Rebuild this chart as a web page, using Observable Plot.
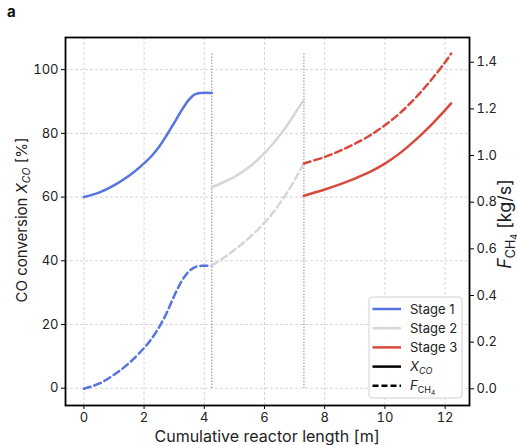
<!DOCTYPE html>
<html><head><meta charset="utf-8">
<script src="https://cdn.jsdelivr.net/npm/d3@7"></script>
<script src="https://cdn.jsdelivr.net/npm/@observablehq/plot@0.6"></script>
<style>
body{margin:0;background:#fff;}
#chart svg{display:block}
</style></head><body><div id="chart"></div>
<script>
// ---- data ----
const stageNames = ["Stage 1", "Stage 2", "Stage 3"];
const stageColors = ["#5574e0", "#d6d6d6", "#d8493d"];

const stage1Length = [0, 0.5, 1.0, 1.5, 2.0, 2.25, 2.5, 2.75, 3.0, 3.25, 3.5, 3.7, 3.9, 4.25];
const stage1Xco    = [60.0, 61.4, 63.7, 66.7, 70.6, 72.9, 75.8, 79.4, 83.3, 87.3, 90.7, 92.3, 92.7, 92.7];
const stage1Fch4   = [0, 0.022, 0.060, 0.110, 0.175, 0.215, 0.264, 0.325, 0.398, 0.462, 0.505, 0.522, 0.527, 0.528];

const stage2Length = [4.25, 4.6, 5.0, 5.5, 6.0, 6.3, 6.6, 6.9, 7.1, 7.31];
const stage2Xco    = [63.1, 64.5, 66.3, 69.5, 73.8, 77.0, 80.5, 84.6, 87.6, 90.6];
const stage2Fch4   = [0.528, 0.558, 0.595, 0.648, 0.712, 0.758, 0.812, 0.872, 0.918, 0.966];

const stage3Length = [7.31, 8.0, 8.5, 9.0, 9.5, 10.0, 10.5, 11.0, 11.5, 12.0, 12.2];
const stage3Xco    = [60.4, 62.4, 64.0, 65.8, 67.9, 70.5, 73.8, 77.8, 82.3, 87.3, 89.4];
const stage3Fch4   = [0.966, 0.994, 1.020, 1.050, 1.086, 1.130, 1.182, 1.245, 1.318, 1.400, 1.437];

const stageBoundaries = [4.25, 7.31];
const boundaryTop = 105;

const xTicks = [0, 2, 4, 6, 8, 10, 12];
const yLeftTicks = [0, 20, 40, 60, 80, 100];
const yRightTicks = [0.0, 0.2, 0.4, 0.6, 0.8, 1.0, 1.2, 1.4];

// ---- layout ----
const W = 517, H = 445;
const xDomain = [-0.61, 12.81];
const yLeftDomain = [-5.43, 110.1];
const yRightDomain = [-0.0716, 1.506];
const toLeft = d3.scaleLinear().domain(yRightDomain).range(yLeftDomain);

const stages = [
  {len: stage1Length, xco: stage1Xco, f: stage1Fch4},
  {len: stage2Length, xco: stage2Xco, f: stage2Fch4},
  {len: stage3Length, xco: stage3Xco, f: stage3Fch4}
].map((s, i) => s.len.map((x, j) => ({x, xco: s.xco[j], f: s.f[j], stage: stageNames[i]})));

const lineMarks = [];
stages.forEach((rows, i) => {
  lineMarks.push(Plot.line(rows, {x: "x", y: d => toLeft(d.f), stroke: stageColors[i], strokeWidth: 2.5, strokeDasharray: "7,4", curve: "catmull-rom"}));
  lineMarks.push(Plot.line(rows, {x: "x", y: "xco", stroke: stageColors[i], strokeWidth: 2.5, curve: "catmull-rom"}));
});

const gridStyle = {stroke: "#cccccc", strokeOpacity: 1, strokeDasharray: "3,2", strokeWidth: 0.8};

const chart = Plot.plot({
  width: W, height: H,
  marginLeft: 65, marginRight: 48, marginTop: 37, marginBottom: 40,
  style: {fontFamily: "Inter, sans-serif", fontSize: "13px", color: "#222", background: "#fff"},
  x: {domain: xDomain},
  y: {domain: yLeftDomain},
  marks: [
    Plot.gridX(xTicks, gridStyle),
    Plot.gridY(yLeftTicks, gridStyle),
    Plot.ruleX(stageBoundaries, {y1: 0, y2: boundaryTop, stroke: "#555", strokeDasharray: "1,2", strokeWidth: 1}),
    ...lineMarks,
    Plot.frame({stroke: "#000", strokeWidth: 1.8}),
    Plot.axisX(xTicks, {tickSize: 4, tickPadding: 3, label: null, stroke: "#000"}),
    Plot.axisY(yLeftTicks, {anchor: "left", tickSize: 4, tickPadding: 3, label: null, stroke: "#000"}),
    Plot.axisY(yRightTicks.map(v => toLeft(v)), {anchor: "right", tickSize: 4, tickPadding: 3, label: null, stroke: "#000",
      tickFormat: v => toLeft.invert(v).toFixed(1)})
  ]
});
document.getElementById("chart").appendChild(chart);

// ---- annotations: labels & legend ----
const svg = d3.select(chart);
const ff = "Inter, sans-serif";

svg.append("text").attr("x", 7).attr("y", 17).attr("text-anchor", "start").attr("font-family", ff).attr("font-size", 15)
  .attr("font-weight", "bold").attr("fill", "#111").text("a");

svg.append("text").attr("x", 267).attr("y", 442).attr("text-anchor", "middle")
  .attr("font-family", ff).attr("font-size", 16).attr("fill", "#222").text("Cumulative reactor length [m]");

const yl = svg.append("text").attr("transform", "translate(27,220) rotate(-90)").attr("text-anchor", "middle")
  .attr("font-family", ff).attr("font-size", 15).attr("fill", "#222");
yl.append("tspan").text("CO conversion ");
yl.append("tspan").attr("font-style", "italic").text("X");
yl.append("tspan").attr("font-style", "italic").attr("font-size", 10.5).attr("dy", 3).text("CO");
yl.append("tspan").attr("dy", -3).text(" [%]");

const yr = svg.append("text").attr("transform", "translate(511,224) rotate(-90)").attr("text-anchor", "middle")
  .attr("font-family", ff).attr("font-size", 18).attr("fill", "#222");
yr.append("tspan").attr("font-style", "italic").text("F");
yr.append("tspan").attr("font-size", 12.5).attr("dy", 3.5).text("CH");
yr.append("tspan").attr("font-size", 9).attr("dy", 2).text("4");
yr.append("tspan").attr("dy", -5.5).text(" [kg/s]");

// legend
const lg = svg.append("g").attr("text-anchor", "start");
lg.append("rect").attr("x", 369).attr("y", 297).attr("width", 93).attr("height", 101).attr("rx", 3)
  .attr("fill", "#fff").attr("fill-opacity", 0.9).attr("stroke", "#d0d0d0").attr("stroke-width", 1);
const legendRows = [
  {label: "Stage 1", color: stageColors[0], dash: null},
  {label: "Stage 2", color: stageColors[1], dash: null},
  {label: "Stage 3", color: stageColors[2], dash: null},
  {label: "XCO", color: "#000", dash: null},
  {label: "FCH4", color: "#000", dash: "6,3"}
];
legendRows.forEach((r, i) => {
  const y = 309 + i * 19.2;
  lg.append("line").attr("x1", 372.5).attr("x2", 401).attr("y1", y).attr("y2", y)
    .attr("stroke", r.color).attr("stroke-width", 2.5).attr("stroke-dasharray", r.dash);
  const t = lg.append("text").attr("x", 410).attr("y", y + 4.5).attr("text-anchor", "start")
    .attr("font-family", ff).attr("font-size", 13).attr("fill", "#222");
  if (i < 3) t.text(r.label);
  else if (i === 3) {
    t.append("tspan").attr("font-style", "italic").text("X");
    t.append("tspan").attr("font-style", "italic").attr("font-size", 9).attr("dy", 3).text("CO");
  } else {
    t.append("tspan").attr("font-style", "italic").text("F");
    t.append("tspan").attr("font-size", 9).attr("dy", 3).text("CH");
    t.append("tspan").attr("font-size", 6.5).attr("dy", 1.5).text("4");
  }
});
</script>
</body></html>
